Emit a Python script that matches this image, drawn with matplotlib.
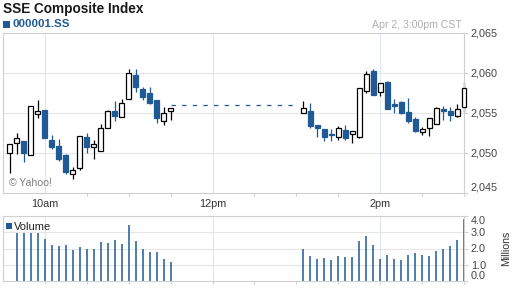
import numpy as np
import matplotlib
matplotlib.use("Agg")
import matplotlib.pyplot as plt
from matplotlib.patches import Rectangle

plt.rcParams['font.family'] = ['Liberation Sans', 'DejaVu Sans']

# ---- data ----
am_times = ["9:35", "9:40", "9:45", "9:50", "9:55", "10:00", "10:05", "10:10",
            "10:15", "10:20", "10:25", "10:30", "10:35", "10:40", "10:45", "10:50",
            "10:55", "11:00", "11:05", "11:10", "11:15", "11:20", "11:25", "11:30"]
pm_times = ["13:05", "13:10", "13:15", "13:20", "13:25", "13:30", "13:35", "13:40",
            "13:45", "13:50", "13:55", "14:00", "14:05", "14:10", "14:15", "14:20",
            "14:25", "14:30", "14:35", "14:40", "14:45", "14:50", "14:55", "15:00"]

opens = [2049.96, 2051.21, 2051.50, 2049.75, 2054.84, 2055.40, 2051.60, 2050.90,
         2049.75, 2047.34, 2048.10, 2051.96, 2050.70, 2050.25, 2053.10, 2055.25,
         2054.46, 2056.70, 2059.75, 2058.00, 2057.46, 2056.60, 2054.04, 2055.29,
         2054.96, 2055.25, 2053.50, 2053.00, 2052.40, 2051.96, 2052.90, 2052.34,
         2052.04, 2057.75, 2060.25, 2057.59, 2058.90, 2056.10, 2056.40, 2055.16,
         2054.20, 2052.66, 2053.10, 2053.60, 2055.46, 2055.25, 2054.66, 2055.80]
closes = [2051.10, 2051.91, 2050.04, 2055.88, 2055.25, 2051.90, 2050.80, 2049.25,
          2047.66, 2047.90, 2052.10, 2050.80, 2051.10, 2053.10, 2055.25, 2054.66,
          2056.29, 2059.96, 2058.29, 2057.04, 2056.20, 2054.40, 2055.04, 2055.59,
          2055.66, 2053.41, 2053.10, 2052.04, 2052.20, 2053.10, 2051.90, 2052.80,
          2058.10, 2059.90, 2057.20, 2058.79, 2055.50, 2055.90, 2054.96, 2054.00,
          2052.75, 2053.00, 2054.34, 2055.60, 2055.30, 2054.75, 2055.46, 2058.10]
highs = [2051.10, 2052.54, 2051.50, 2055.88, 2056.60, 2055.40, 2052.25, 2051.80,
         2049.85, 2048.25, 2052.10, 2052.54, 2051.60, 2053.60, 2055.40, 2056.50,
         2056.70, 2060.50, 2060.46, 2058.29, 2058.29, 2056.60, 2055.80, 2055.60,
         2056.50, 2056.20, 2053.50, 2053.00, 2052.96, 2053.40, 2053.50, 2052.80,
         2058.10, 2060.25, 2060.50, 2058.79, 2059.00, 2056.70, 2056.50, 2056.84,
         2054.46, 2053.29, 2054.34, 2055.80, 2055.90, 2055.80, 2056.10, 2058.90]
lows = [2047.50, 2049.84, 2048.90, 2049.75, 2054.40, 2051.90, 2050.50, 2049.00,
        2047.40, 2046.70, 2047.90, 2050.04, 2049.30, 2050.25, 2053.10, 2054.00,
        2054.46, 2056.70, 2057.60, 2056.60, 2056.10, 2053.70, 2053.50, 2054.10,
        2054.96, 2053.10, 2052.04, 2051.50, 2051.50, 2051.60, 2051.60, 2051.20,
        2051.90, 2057.46, 2057.20, 2057.16, 2055.50, 2055.00, 2054.90, 2053.70,
        2052.66, 2052.25, 2052.16, 2053.60, 2054.10, 2054.04, 2054.46, 2055.16]

volumes = [np.nan, 2.94, 2.94, 2.94, 2.94, 2.60, 2.23, 2.15, 2.23, 1.91, 2.11, 1.97,
           1.97, 2.40, 2.36, 2.52, 2.28, 3.47, 2.46, 1.97, 1.80, 1.80, 1.35, 1.17,
           1.97, 1.56, 1.35, 1.41, 1.29, 1.56, 1.48, 1.48, 2.46, 2.77, 2.23, 1.37,
           1.60, 1.35, 1.29, 1.60, 1.72, 1.60, 1.54, 1.85, 1.97, 2.15, 2.52, 3.80]

lunch_level = 2056.0
lunch_span = ["11:30", "13:00"]

price_ticks = [2045, 2050, 2055, 2060, 2065]
vol_ticks = [0.0, 1.0, 2.0, 3.0, 4.0]
time_ticks = ["10:00", "12:00", "14:00"]
time_labels = ["10am", "12pm", "2pm"]

title = "SSE Composite Index"
symbol = "000001.SS"
stamp = "Apr 2, 3:00pm CST"


def hrs(s):
    h, m = s.split(":")
    return int(h) + int(m) / 60.0


times = np.array([hrs(t) for t in am_times + pm_times])

BLUE = "#1f5a96"
GRID = "#e6e6e6"
VGRID = "#dfe5ef"
SPINE = "#d0d0d0"

W, H = 512, 288
fig = plt.figure(figsize=(W / 100, H / 100), dpi=100)
fig.patch.set_facecolor("white")

L, R = 3 / W, 464 / W
ax = fig.add_axes([L, 1 - 193 / H, R - L, (193 - 33) / H])
axv = fig.add_axes([L, 1 - 281 / H, R - L, (281 - 216) / H])

xmin, xmax = 9.5, 15.0
body_w = 5 / 84.0

for a in (ax, axv):
    a.set_xlim(xmin, xmax)
    for s in a.spines.values():
        s.set_color(SPINE)
        s.set_linewidth(0.8)
    a.yaxis.tick_right()
    a.set_xticks([hrs(t) for t in time_ticks])
    a.set_xticks(np.arange(10.0, 15.01, 0.5), minor=True)
    a.tick_params(axis='x', which='minor', length=2.5, color=SPINE, width=0.8)
    a.tick_params(axis='y', length=3, color=SPINE, width=0.8, pad=1.8,
                  labelsize=7.8, labelcolor="#444444")
    a.set_axisbelow(True)

# main price axes
ax.set_ylim(2045, 2065)
ax.set_yticks(price_ticks)
ax.set_yticklabels([f"{v:,}" for v in price_ticks])
ax.yaxis.get_ticklabels()[0].set_verticalalignment('bottom')
ax.set_xticklabels(time_labels)
ax.tick_params(axis='x', which='major', length=0, pad=4.5, labelsize=7.8,
               labelcolor="#333333")
for v in price_ticks[1:-1]:
    ax.axhline(v, color=GRID, lw=0.8, zorder=0)
for t in time_ticks:
    ax.axvline(hrs(t), color=VGRID, lw=0.8, zorder=0)

for t, o, c, h, l in zip(times, opens, closes, highs, lows):
    up = c >= o
    ec = "black" if up else BLUE
    fc = "white" if up else BLUE
    ax.vlines(t, l, h, color=ec, lw=0.9, zorder=2, clip_on=False)
    bot = min(o, c)
    hgt = max(abs(c - o), 0.12)
    ax.add_patch(Rectangle((t - body_w / 2, bot), body_w, hgt, facecolor=fc,
                           edgecolor=ec, lw=0.9, zorder=3, clip_on=False))

ax.plot([hrs(lunch_span[0]), hrs(lunch_span[1])], [lunch_level, lunch_level],
        color=BLUE, lw=0.9, dashes=(3.5, 5), zorder=2)

ax.text(6 / (R - L) / W, 0.06, "\u00a9 Yahoo!", transform=ax.transAxes,
        fontsize=7.6, color="#808080", ha='left', va='center')

# volume axes
axv.set_ylim(0, 4)
axv.set_yticks(vol_ticks)
axv.set_yticklabels([f"{v:.1f}" for v in vol_ticks])
vl = axv.yaxis.get_ticklabels()
vl[0].set_verticalalignment('bottom')
vl[-1].set_verticalalignment('top')
axv.tick_params(axis='x', which='major', length=2.5, color=SPINE, labelbottom=False)
for v in vol_ticks[1:-1]:
    axv.axhline(v, color=GRID, lw=0.8, zorder=0)
for t in time_ticks:
    axv.axvline(hrs(t), color=VGRID, lw=0.8, zorder=0)
vol = np.array(volumes)
m = ~np.isnan(vol)
axv.vlines(times[m], 0, vol[m], color=BLUE, lw=1.1, zorder=2, clip_on=False)
axv.set_ylabel("Millions", fontsize=7.6, color="#333333", labelpad=11)
axv.yaxis.set_label_position("right")

# legend-like labels
fig.patches.append(Rectangle((6 / W, 1 - 229 / H), 6 / W, 6 / H, transform=fig.transFigure,
                             facecolor=BLUE, edgecolor='none'))
fig.text(14 / W, 1 - 226.5 / H, "Volume", fontsize=8.0, color="#222222",
         ha='left', va='center')

fig.text(3 / W, 1 - 9 / H, title, fontsize=9.8, fontweight='bold', color="#1a1a1a",
         ha='left', va='center')
fig.patches.append(Rectangle((3 / W, 1 - 27.5 / H), 6.5 / W, 6.5 / H, transform=fig.transFigure,
                             facecolor=BLUE, edgecolor='none'))
fig.text(12.5 / W, 1 - 24.2 / H, symbol, fontsize=8.2, fontweight='bold', color=BLUE,
         ha='left', va='center')
fig.text(462 / W, 1 - 24.5 / H, stamp, fontsize=7.6, color="#b0b0b0",
         ha='right', va='center')

fig.savefig("out.png", dpi=100, facecolor="white")
